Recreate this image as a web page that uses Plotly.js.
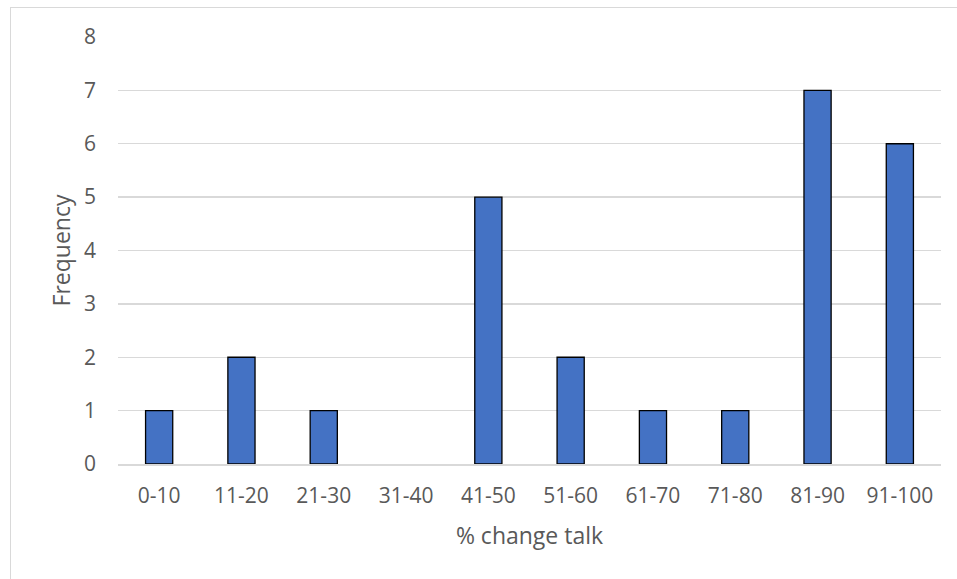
<!DOCTYPE html>
<html>
<head>
<meta charset="utf-8">
<script src="https://cdn.plot.ly/plotly-3.0.1.min.js"></script>
<style>
  html, body { margin: 0; padding: 0; background: #ffffff; overflow: hidden; }
  #frame { position: absolute; left: 10px; top: 7px; width: 980px; height: 600px;
           border: 1px solid #d9d9d9; box-sizing: border-box; pointer-events: none; z-index: 5; }
  #chart { position: absolute; left: 0; top: 0; width: 957px; height: 579px; }
</style>
</head>
<body>
<div id="chart"></div>
<div id="frame"></div>
<script>
// Frequency of each "% change talk" bin
const bins = ['0-10', '11-20', '21-30', '31-40', '41-50', '51-60', '61-70', '71-80', '81-90', '91-100'];
const frequency = [1, 2, 1, 0, 5, 2, 1, 1, 7, 6];
const yTicks = [0, 1, 2, 3, 4, 5, 6, 7, 8];

const textColor = '#595959';
const font = 'Open Sans, sans-serif';

// empty bins get no outline, so nothing is drawn for them
const outlineWidths = frequency.map(v => (v === 0 ? 0 : 1.3));

const trace = {
  type: 'bar',
  x: bins,
  y: frequency,
  marker: { color: '#4472C4', line: { color: '#000000', width: outlineWidths } },
  hoverinfo: 'x+y'
};

const layout = {
  width: 957,
  height: 579,
  margin: { l: 118, r: 16, t: 37, b: 115 },
  paper_bgcolor: '#ffffff',
  plot_bgcolor: '#ffffff',
  bargap: 0.67,
  showlegend: false,
  font: { family: font, color: textColor, size: 21 },
  xaxis: {
    type: 'category',
    showgrid: false,
    showline: true,
    linecolor: '#d9d9d9',
    linewidth: 1.5,
    layer: 'above traces',
    ticks: '',
    ticklabelstandoff: 12,
    tickfont: { family: font, size: 21, color: textColor },
    title: { text: '% change talk', font: { family: font, size: 23, color: textColor }, standoff: 20 }
  },
  yaxis: {
    range: [0, 8],
    tickvals: yTicks,
    ticktext: yTicks.map(String),
    showgrid: true,
    gridcolor: '#d9d9d9',
    gridwidth: 1.3,
    zeroline: false,
    showline: false,
    ticks: '',
    ticklabelstandoff: 21,
    tickfont: { family: font, size: 21, color: textColor },
    title: { text: 'Frequency', font: { family: font, size: 23, color: textColor }, standoff: 6 }
  }
};

Plotly.newPlot('chart', [trace], layout, { displayModeBar: false, staticPlot: true });
</script>
</body>
</html>
